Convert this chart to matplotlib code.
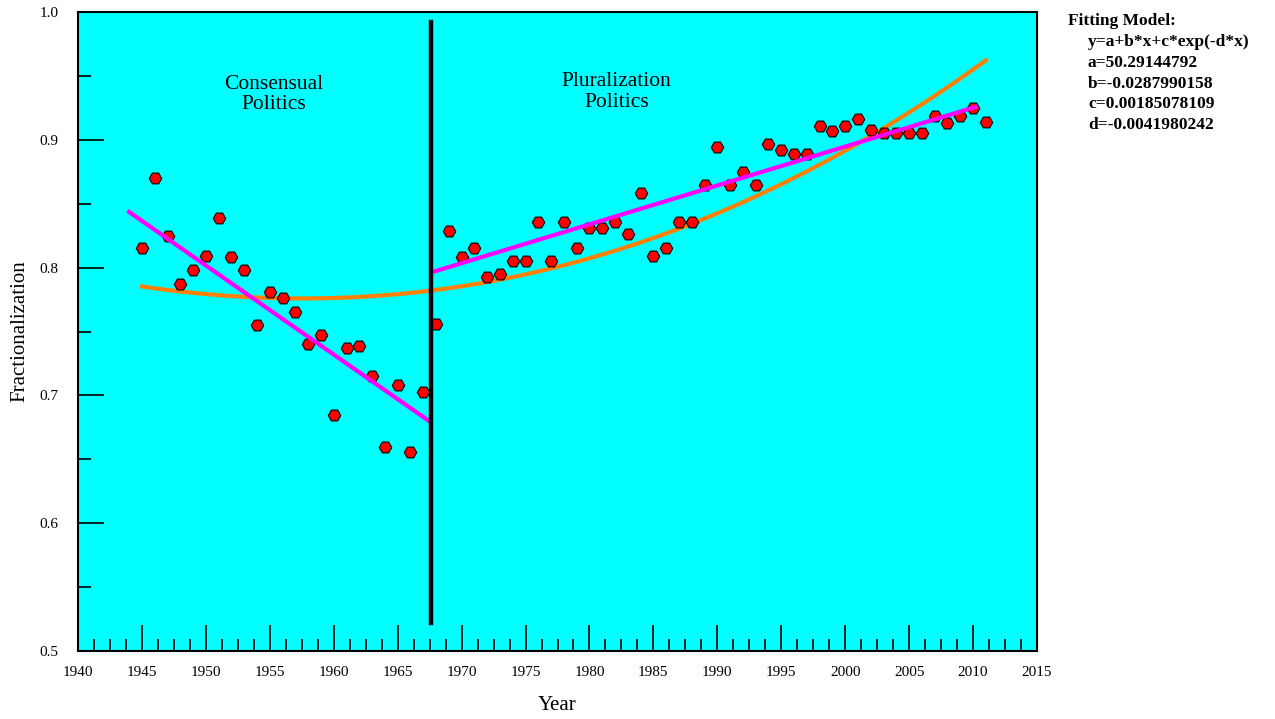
import numpy as np
import matplotlib
matplotlib.use('Agg')
import matplotlib.pyplot as plt
from matplotlib.ticker import MultipleLocator, FormatStrFormatter

plt.rcParams['font.family'] = ['Liberation Serif', 'DejaVu Serif']

# observed fractionalization by year
years = np.arange(1945, 2012)
frac = [0.815, 0.870, 0.825, 0.787, 0.798, 0.809, 0.839, 0.808, 0.798, 0.755,
        0.781, 0.776, 0.765, 0.740, 0.747, 0.685, 0.737, 0.739, 0.715, 0.660,
        0.708, 0.656, 0.703, 0.756, 0.829, 0.808, 0.815, 0.793, 0.795, 0.805,
        0.805, 0.836, 0.805, 0.836, 0.815, 0.831, 0.831, 0.836, 0.826, 0.858,
        0.809, 0.815, 0.836, 0.836, 0.865, 0.894, 0.865, 0.875, 0.865, 0.897,
        0.892, 0.889, 0.889, 0.911, 0.907, 0.911, 0.916, 0.908, 0.905, 0.905,
        0.905, 0.905, 0.919, 0.913, 0.919, 0.925, 0.914]

# linear trends for the two periods (endpoints)
seg1_x = [1944.0, 1967.45]
seg1_y = [0.8435, 0.680]
seg2_x = [1967.75, 2010.2]
seg2_y = [0.7966, 0.9257]

# fitting model y = a + b*x + c*exp(-d*x)
a = 50.29144792
b = -0.0287990158
c = 0.00185078109
d = -0.0041980242
fit_x = np.linspace(1945, 2011, 200)
fit_y = a + b * fit_x + c * np.exp(-d * fit_x)

break_year = 1967.6

fig = plt.figure(figsize=(12.75, 7.19), dpi=100)
ax = fig.add_axes([78 / 1275, 1 - 651 / 719, (1037 - 78) / 1275, (651 - 12) / 719])
ax.set_facecolor('#00FFFF')

ax.plot(fit_x, fit_y, color='#FF8000', lw=3, zorder=2)
ax.plot(years, frac, 'H', color='#FF0000', mec='black', mew=0.8, ms=9, zorder=3)
ax.plot(seg1_x, seg1_y, color='#FF00FF', lw=3, zorder=4)
ax.plot(seg2_x, seg2_y, color='#FF00FF', lw=3, zorder=4)
ax.plot([break_year, break_year], [0.522, 0.992], color='black', lw=3.2, zorder=5)

ax.text(1955.3, 0.9355, 'Consensual\nPolitics', ha='center', va='center',
        fontsize=15.5, linespacing=1.12)
ax.text(1982.1, 0.9375, 'Pluralization\nPolitics', ha='center', va='center',
        fontsize=15.5, linespacing=1.12)

ax.set_xlim(1940, 2015)
ax.set_ylim(0.5, 1.0)
ax.xaxis.set_major_locator(MultipleLocator(5))
ax.xaxis.set_minor_locator(MultipleLocator(1.25))
ax.yaxis.set_major_locator(MultipleLocator(0.1))
ax.yaxis.set_minor_locator(MultipleLocator(0.05))
ax.yaxis.set_major_formatter(FormatStrFormatter('%.1f'))
ax.tick_params(which='major', direction='in', length=19, width=1.2, labelsize=11)
ax.tick_params(which='minor', direction='in', length=9, width=1.2)
ax.tick_params(axis='x', which='major', pad=11)
ax.tick_params(axis='y', which='major', pad=14)
for s in ax.spines.values():
    s.set_linewidth(1.5)

fig.text(557 / 1275, 1 - 705 / 719, 'Year', fontsize=15, ha='center', va='center')
fig.text(20 / 1275, 1 - 331 / 719, 'Fractionalization', fontsize=15,
         rotation=90, ha='center', va='center')

fig.text(1068 / 1275, 1 - 21 / 719, 'Fitting Model:', fontsize=12.5,
         fontweight='bold', va='center', ha='left')
model_lines = ['y=a+b*x+c*exp(-d*x)', 'a=50.29144792', 'b=-0.0287990158',
               'c=0.00185078109', 'd=-0.0041980242']
for i, t in enumerate(model_lines):
    fig.text(1088 / 1275, 1 - (42 + 20.8 * i) / 719, t, fontsize=12.5,
             fontweight='bold', va='center', ha='left')

fig.savefig('out.png', dpi=100)
